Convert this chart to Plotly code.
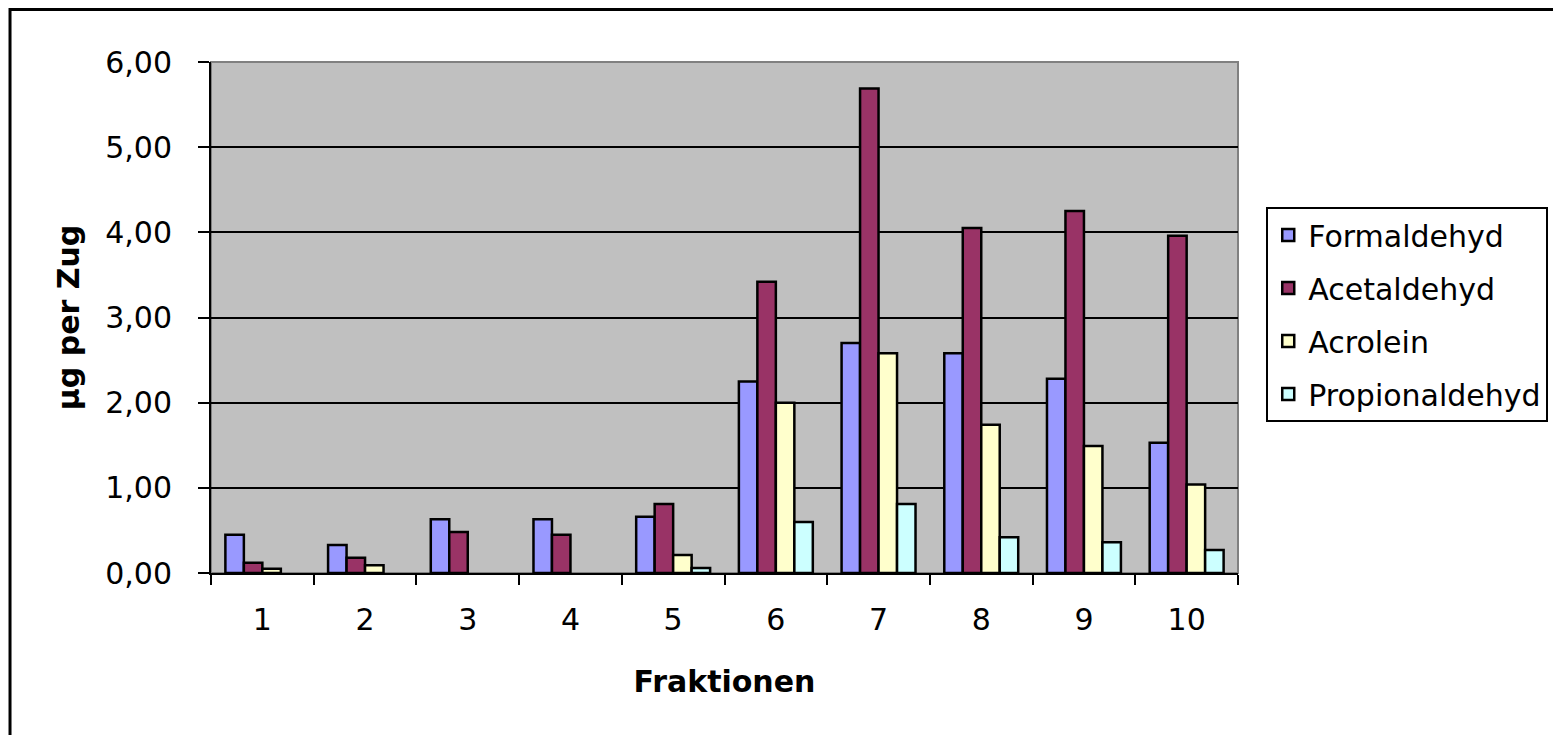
import plotly.graph_objects as go

categories = ["1", "2", "3", "4", "5", "6", "7", "8", "9", "10"]
formaldehyd = [0.45, 0.33, 0.63, 0.63, 0.66, 2.25, 2.70, 2.58, 2.28, 1.53]
acetaldehyd = [0.12, 0.18, 0.48, 0.45, 0.81, 3.42, 5.69, 4.05, 4.25, 3.96]
acrolein = [0.05, 0.09, None, None, 0.21, 2.00, 2.58, 1.74, 1.49, 1.04]
propionaldehyd = [None, None, None, None, 0.06, 0.60, 0.81, 0.42, 0.36, 0.27]

series = [
    ("Formaldehyd", formaldehyd, "#9999FF"),
    ("Acetaldehyd", acetaldehyd, "#993366"),
    ("Acrolein", acrolein, "#FFFFCC"),
    ("Propionaldehyd", propionaldehyd, "#CCFFFF"),
]

FONT = "DejaVu Sans, Arial, sans-serif"

fig = go.Figure()
for name, vals, col in series:
    fig.add_trace(go.Bar(
        x=categories, y=vals, name=name, legendgroup=name,
        marker=dict(color=col, line=dict(color="black", width=2.5)),
    ))

# page body has an 8px margin: figure is made 8px smaller so no scrollbars appear
fig.update_layout(
    width=1553, height=727,
    margin=dict(l=203, r=323, t=54, b=162),
    paper_bgcolor="white",
    plot_bgcolor="#C0C0C0",
    barmode="group", bargap=0.28, bargroupgap=0,
    separators=",.",
    font=dict(family=FONT, size=30, color="black"),
    showlegend=True,
    legend=dict(
        x=1.0275, xanchor="left", y=0.716, yanchor="top",
        bgcolor="white", bordercolor="black", borderwidth=2,
        font=dict(family=FONT, size=30, color="black"),
        traceorder="grouped", tracegroupgap=11,
    ),
    shapes=[
        dict(type="rect", xref="paper", yref="paper", x0=0, x1=1, y0=0, y1=1,
             line=dict(color="#808080", width=2), layer="below"),
        dict(type="rect", xref="paper", yref="paper",
             x0=-0.1957, x1=1.40, y0=-0.40, y1=1.1027,
             line=dict(color="black", width=3), fillcolor="rgba(0,0,0,0)", layer="above"),
    ],
)

fig.update_xaxes(
    type="category", tickson="boundaries", ticks="outside", ticklen=10, tickwidth=2,
    tickcolor="black", showline=True, linecolor="black", linewidth=2,
    showgrid=False, ticklabelstandoff=19,
    tickfont=dict(family=FONT, size=30),
    title=dict(text="<b>Fraktionen</b>", font=dict(family=FONT, size=30), standoff=35),
    automargin=False,
)
fig.update_yaxes(
    range=[0, 6], dtick=1, tick0=0, tickformat=".2f", ticks="outside", ticklen=11,
    tickwidth=2, tickcolor="black", showline=True, linecolor="black", linewidth=2,
    showgrid=True, gridcolor="black", gridwidth=2, zeroline=False,
    ticklabelstandoff=20,
    title=dict(text="<b>µg per Zug</b>", font=dict(family=FONT, size=30), standoff=17),
    automargin=False,
)

fig.write_html("out.html")
